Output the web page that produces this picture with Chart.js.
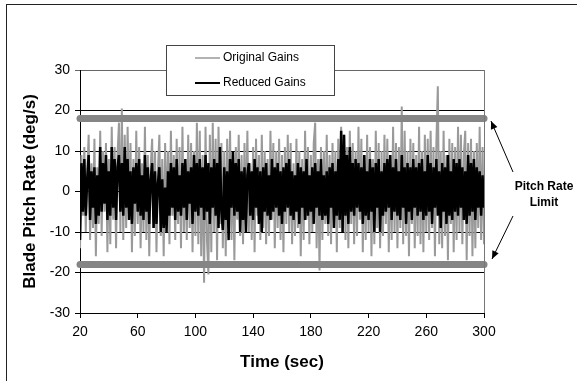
<!DOCTYPE html>
<html>
<head>
<meta charset="utf-8">
<script src="https://cdn.jsdelivr.net/npm/chart.js@4/dist/chart.umd.min.js"></script>
<style>
  html, body { margin: 0; padding: 0; background: #fff; }
  #wrap { width: 577px; height: 381px; }
</style>
</head>
<body>
<div id="wrap"><canvas id="c" width="577" height="381"></canvas></div>
<script>
// ---- data (one sample per second, t = 20 .. 300 s) ----
const startTime = 20;
const timeStep = 1;

const originalGains = [
  -14, 9, -6, 11, -10, 4, 14, -12, 7, -9,
  13, -16, 6, -8, 15, -11, 10, -5, 12, -15,
  8, -13, 16, -7, 11, -14, 9, 17, -10, 20.5,
  -12, 14, -9, 16, -6, 12, -15, 8, -11, 15,
  -8, 11, -14, 7, -10, 16, -12, 9, -16, 6,
  13, -9, 10, -15, 5, 14, -11, 8, -16, 12,
  -7, 10, -13, 15, -6, 9, -12, 13, -8, 11,
  -14, 16, -10, 7, -12, 14, -9, 12, -15, 10,
  -11, 17, -13, 15, -16, 9, -22.5, 16, -12, -20.5,
  14, -15, 17, -10, 13, -17, 16, -8, 12, -14,
  10, -16, 13, -9, 15, -12, 8, -17, 11, -7,
  14, -11, 9, -13, 12, -8, 15, -10, 7, -12,
  11, -15, 13, -6, 9, -12, 14, -9, 10, -13,
  8, -11, 15, -7, 12, -14, 10, -9, 13, -12,
  9, -15, 11, -8, 14, -10, 12, -13, 7, -11,
  13, -9, 10, -16, 8, -12, 15, -7, 11, -13,
  9, -10, 12, 17, -14, 8, -19.5, 11, -12, 10,
  -8, 14, -11, 9, -13, 12, -7, 10, -15, 13,
  -9, 16, -10, 14, -12, 11, -14, 15, -8, 12,
  -13, 10, -11, 16, -7, 13, -15, 9, -12, 14,
  -10, 11, -16, 8, -13, 15, -9, 12, -14, 10,
  -11, 14, -8, 13, -15, 9, -12, 16, -10, 12,
  -14, 11, -9, 21, -13, 15, -11, 10, -16, 13,
  -8, 12, -14, 9, -11, 16, -13, 10, -15, 14,
  -10, 13, -12, 15, -9, 11, -16, 12, 26, -13,
  10, -14, 15, -11, 9, -17, 13, -8, 12, -15,
  11, -12, 16, -10, 14, -13, 9, 15, -17, 12,
  -11, 13, -16, 10, -14, 12, -9, 16, -12, 11,
  -13
];

const reducedGains = [
  -12, 7, -5, 8, -6, 3, 9, -7, 5, -4,
  6, -8, 4, -6, 11, -5, 7, -3, 9, -7,
  5, -6, 11, -4, 8, -7, 6, 9, -5, 7,
  -6, 11, -4, 8, -7, 5, -8, 6, -3, 7,
  -5, 8, -6, 4, -7, 9, -5, 6, -8, 3,
  7, -9, 5, -8, 2, 6, -10, 3, -9, 1,
  -10, 5, -6, 7, -4, 6, -7, 8, -5, 4,
  -6, 7, -4, 8, -7, 5, -3, 6, -8, 9,
  -5, 7, -6, 8, -4, 6, -7, 9, -5, 7,
  -8, 6, -4, 8, -6, 7, -9, 11, -5, -9.5,
  6, -7, 5, -12, 8, -4, 10, -6, 7, -5,
  8, -10, 5, -7, 6, -10, 4, 7, -6, 5,
  -7, 8, -4, 6, -8, 5, -10, 6, -5, 7,
  -6, 4, -7, 8, -5, 6, -4, 7, -6, 5,
  -8, 6, -5, 7, -4, 8, -6, 5, -7, 4,
  -5, 7, -8, 6, -4, 5, -7, 8, -6, 4,
  -5, 6, -8, 7, -4, 5, -6, 8, -7, 4,
  -6, 5, -8, 6, -4, 7, -9, 5, -6, 8,
  -7, 15, -10, 14, -6, 9, -8, 11, -5, 7,
  -6, 8, -4, 7, -5, 6, -8, 9, -6, 5,
  -7, 8, -5, 6, -10, 7, -4, 8, -10, 5,
  -6, 7, -5, 8, -4, 9, -7, 6, -5, 8,
  -6, 5, -7, 9, -4, 6, -8, 7, -5, 6,
  -7, 8, -4, 6, -6, 7, -5, 8, -7, 5,
  -6, 9, -5, 7, -8, 6, -4, 8, -6, 5,
  -9, 7, -5, 6, -8, 9, -6, 5, -7, 8,
  -5, 7, -6, 8, -4, 6, -7, 5, -8, 9,
  -6, 7, -5, 8, -7, 6, -4, 5, -6, 4,
  -4
];

const pitchRateLimit = [18, -18];
const limitSpan = [20, 300];

const xTickLabels = ['20', '60', '100', '140', '180', '220', '260', '300'];
const yTickLabels = ['-30', '-20', '-10', '0', '10', '20', '30'];

const seriesNames = ['Original Gains', 'Reduced Gains'];
const xTitle = 'Time (sec)';
const yTitle = 'Blade Pitch Rate (deg/s)';
const annotationLines = ['Pitch Rate', 'Limit'];

// ---- build points ----
function toPoints(arr) {
  return arr.map((v, i) => ({ x: startTime + i * timeStep, y: v }));
}
function limitPoints(level) {
  return limitSpan.map(t => ({ x: t, y: level }));
}

const FONT = "'Liberation Sans', Arial, sans-serif";

const decorPlugin = {
  id: 'decor',
  beforeDraw(chart) {
    const ctx = chart.ctx;
    ctx.save();
    ctx.fillStyle = '#fff';
    ctx.fillRect(0, 0, chart.width, chart.height);
    ctx.restore();
  },
  afterDraw(chart) {
    const ctx = chart.ctx;
    const a = chart.chartArea;
    ctx.save();
    // outer frame
    ctx.strokeStyle = '#222';
    ctx.lineWidth = 1;
    ctx.strokeRect(6.5, 4.5, 700, 500);

    // right border of the plot
    ctx.strokeStyle = '#777';
    ctx.beginPath();
    ctx.moveTo(Math.round(a.right) + 0.5, a.top);
    ctx.lineTo(Math.round(a.right) + 0.5, a.bottom);
    ctx.stroke();

    // axis titles
    ctx.fillStyle = '#000';
    ctx.font = 'bold 17px ' + FONT;
    ctx.textAlign = 'center';
    ctx.textBaseline = 'middle';
    ctx.fillText(xTitle, (a.left + a.right) / 2, 362);
    ctx.save();
    ctx.translate(30, (a.top + a.bottom) / 2);
    ctx.rotate(-Math.PI / 2);
    ctx.fillText(yTitle, 0, 0);
    ctx.restore();

    // legend box
    const lx = 166.5, ly = 45.5, lw = 168, lh = 50;
    ctx.fillStyle = '#fff';
    ctx.fillRect(lx, ly, lw, lh);
    ctx.strokeStyle = '#444';
    ctx.lineWidth = 1;
    ctx.strokeRect(lx, ly, lw, lh);
    const ds = chart.data.datasets;
    const rows = [58, 83];
    ctx.font = '12px ' + FONT;
    ctx.textAlign = 'left';
    for (let i = 0; i < 2; i++) {
      ctx.strokeStyle = ds[i].borderColor;
      ctx.lineWidth = i === 0 ? 1.5 : 2;
      ctx.beginPath();
      ctx.moveTo(195, rows[i]);
      ctx.lineTo(220, rows[i]);
      ctx.stroke();
      ctx.fillStyle = '#000';
      ctx.fillText(seriesNames[i], 223, rows[i]);
    }

    // annotation text
    ctx.font = 'bold 12px ' + FONT;
    ctx.textAlign = 'center';
    ctx.fillText(annotationLines[0], 544, 187);
    ctx.fillText(annotationLines[1], 544, 203);

    // arrows
    function arrow(x1, y1, x2, y2) {
      ctx.strokeStyle = '#000';
      ctx.fillStyle = '#000';
      ctx.lineWidth = 1;
      ctx.beginPath();
      ctx.moveTo(x1, y1);
      ctx.lineTo(x2, y2);
      ctx.stroke();
      const ang = Math.atan2(y2 - y1, x2 - x1);
      const len = 8, wid = 3.5;
      ctx.beginPath();
      ctx.moveTo(x2, y2);
      ctx.lineTo(x2 - len * Math.cos(ang) + wid * Math.sin(ang), y2 - len * Math.sin(ang) - wid * Math.cos(ang));
      ctx.lineTo(x2 - len * Math.cos(ang) - wid * Math.sin(ang), y2 - len * Math.sin(ang) + wid * Math.cos(ang));
      ctx.closePath();
      ctx.fill();
    }
    arrow(513, 172, 491, 121);
    arrow(513, 216, 492, 259);
    ctx.restore();
  }
};

new Chart(document.getElementById('c'), {
  type: 'line',
  data: {
    datasets: [
      {
        label: seriesNames[0],
        data: toPoints(originalGains),
        borderColor: '#9a9a9a',
        borderWidth: 2,
        pointRadius: 0,
        tension: 0,
        order: 3
      },
      {
        label: seriesNames[1],
        data: toPoints(reducedGains),
        borderColor: '#000000',
        borderWidth: 2.5,
        pointRadius: 0,
        tension: 0,
        order: 2
      },
      {
        label: 'limitUp',
        data: limitPoints(pitchRateLimit[0]),
        borderColor: '#858585',
        borderWidth: 7,
        borderCapStyle: 'round',
        pointRadius: 0,
        clip: false,
        order: 1
      },
      {
        label: 'limitDown',
        data: limitPoints(pitchRateLimit[1]),
        borderColor: '#858585',
        borderWidth: 7,
        borderCapStyle: 'round',
        pointRadius: 0,
        clip: false,
        order: 1
      }
    ]
  },
  options: {
    responsive: false,
    animation: false,
    devicePixelRatio: 1,
    layout: { padding: { left: 0, top: 70, right: 93, bottom: 0 } },
    plugins: {
      legend: { display: false },
      tooltip: { enabled: false },
      title: { display: false }
    },
    scales: {
      x: {
        type: 'linear',
        min: 20,
        max: 300,
        afterFit(scale) { scale.height = 68; },
        afterBuildTicks(scale) {
          scale.ticks = xTickLabels.map(v => ({ value: Number(v) }));
        },
        ticks: {
          autoSkip: false,
          maxRotation: 0,
          padding: 6,
          color: '#000',
          font: { family: FONT, size: 14 },
          callback: (v) => xTickLabels.find(l => Number(l) === v) || ''
        },
        grid: {
          drawOnChartArea: false,
          drawTicks: true,
          tickLength: 5,
          color: '#000'
        },
        border: { display: true, color: '#000', width: 1 }
      },
      y: {
        type: 'linear',
        min: -30,
        max: 30,
        afterFit(scale) { scale.width = 80; },
        afterBuildTicks(scale) {
          scale.ticks = yTickLabels.map(v => ({ value: Number(v) }));
        },
        ticks: {
          autoSkip: false,
          padding: 5,
          color: '#000',
          font: { family: FONT, size: 14 },
          callback: (v) => yTickLabels.find(l => Number(l) === v) || ''
        },
        grid: {
          drawTicks: true,
          tickLength: 5,
          color: (c) => (c.tick && c.tick.value === 30 ? '#666' : '#000'),
          lineWidth: 1
        },
        border: { display: true, color: '#000', width: 1 }
      }
    }
  },
  plugins: [decorPlugin]
});
</script>
</body>
</html>
